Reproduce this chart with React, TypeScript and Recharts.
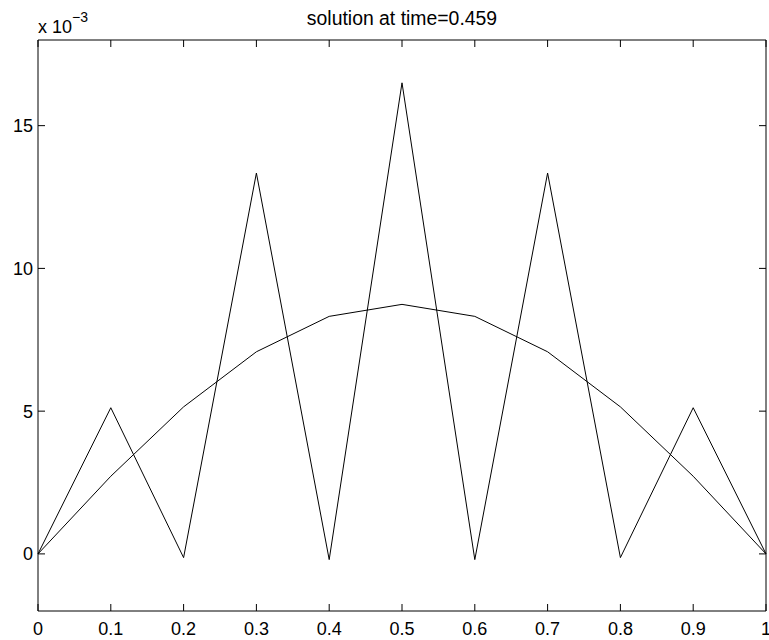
import { LineChart, Line, XAxis, YAxis } from 'recharts'

// x positions of the grid nodes
const xs = [0, 0.1, 0.2, 0.3, 0.4, 0.5, 0.6, 0.7, 0.8, 0.9, 1]
// values in units of 1e-3
const smooth = [0, 2.72, 5.15, 7.08, 8.32, 8.74, 8.32, 7.08, 5.15, 2.72, 0]
const zigzag = [0, 5.12, -0.13, 13.34, -0.2, 16.5, -0.2, 13.34, -0.13, 5.12, 0]

const xTicks = [0, 0.1, 0.2, 0.3, 0.4, 0.5, 0.6, 0.7, 0.8, 0.9, 1]
const yTicks = [0, 5, 10, 15]

const FONT = '"Liberation Sans", Arial, Helvetica, sans-serif'
const FS = 18
const TICK = 7

const data = xs.map((x, i) => ({ x, smooth: smooth[i], zigzag: zigzag[i] }))

const BottomTick = ({ x, y, payload }: any) => (
  <g>
    <line x1={x} y1={y} x2={x} y2={y - TICK} stroke="#000" />
    <text x={x} y={y + 24} textAnchor="middle" fontFamily={FONT} fontSize={FS} fill="#000">
      {payload.value}
    </text>
  </g>
)

const TopTick = ({ x, y }: any) => <line x1={x} y1={y} x2={x} y2={y + TICK} stroke="#000" />

const LeftTick = ({ x, y, payload }: any) => (
  <g>
    <line x1={x} y1={y} x2={x + TICK} y2={y} stroke="#000" />
    <text x={x - 5} y={y + 6.5} textAnchor="end" fontFamily={FONT} fontSize={FS} fill="#000">
      {payload.value}
    </text>
  </g>
)

const RightTick = ({ x, y }: any) => <line x1={x} y1={y} x2={x - TICK} y2={y} stroke="#000" />

export default function App() {
  return (
    <div style={{ position: 'absolute', left: 0, top: 0, width: 769, height: 640, background: '#fff' }}>
      <LineChart width={769} height={640} data={data} margin={{ top: 39, right: 2, bottom: 0, left: 0 }}>
        <XAxis
          dataKey="x"
          type="number"
          domain={[0, 1]}
          ticks={xTicks}
          interval={0}
          height={29}
          tickSize={0}
          tickMargin={0}
          tickLine={false}
          axisLine={{ stroke: '#000' }}
          tick={BottomTick}
        />
        <XAxis
          xAxisId="top"
          dataKey="x"
          type="number"
          orientation="top"
          domain={[0, 1]}
          ticks={xTicks}
          interval={0}
          height={1}
          tickSize={0}
          tickMargin={0}
          tickLine={false}
          axisLine={{ stroke: '#000' }}
          tick={TopTick}
        />
        <YAxis
          type="number"
          domain={[-2, 18]}
          ticks={yTicks}
          interval={0}
          width={38}
          tickSize={0}
          tickMargin={0}
          tickLine={false}
          axisLine={{ stroke: '#000' }}
          tick={LeftTick}
        />
        <YAxis
          yAxisId="right"
          orientation="right"
          type="number"
          domain={[-2, 18]}
          ticks={yTicks}
          interval={0}
          width={1}
          tickSize={0}
          tickMargin={0}
          tickLine={false}
          axisLine={{ stroke: '#000' }}
          tick={RightTick}
        />
        <Line type="linear" dataKey="zigzag" stroke="#000" strokeWidth={1} dot={false} isAnimationActive={false} />
        <Line
          type="linear"
          dataKey="smooth"
          xAxisId="top"
          yAxisId="right"
          stroke="#000"
          strokeWidth={1}
          dot={false}
          isAnimationActive={false}
        />
      </LineChart>
      <svg width={769} height={640} style={{ position: 'absolute', left: 0, top: 0, pointerEvents: 'none' }}>
        <text x={402} y={25} textAnchor="middle" fontFamily={FONT} fontSize={19.4} fill="#000">
          solution at time=0.459
        </text>
        <text x={38} y={33} fontFamily={FONT} fontSize={FS} fill="#000">
          x 10
          <tspan dy={-11} fontSize={14}>−3</tspan>
        </text>
      </svg>
    </div>
  )
}
